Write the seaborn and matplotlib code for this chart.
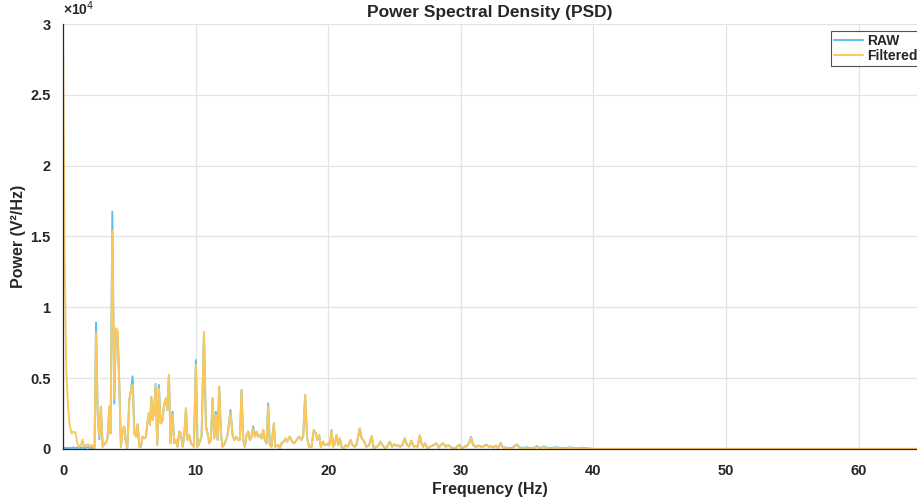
import matplotlib
matplotlib.use("Agg")
import matplotlib.pyplot as plt
import seaborn as sns
import pandas as pd
from matplotlib.ticker import FuncFormatter

freq_hz = [
    0.00, 0.12, 0.25, 0.38, 0.50, 0.65, 0.78, 0.95, 1.08, 1.23,
    1.36, 1.48, 1.58, 1.73, 1.91, 2.03, 2.16, 2.29, 2.38, 2.49,
    2.62, 2.74, 2.86, 2.99, 3.17, 3.29, 3.37, 3.49, 3.59, 3.72,
    3.87, 3.99, 4.12, 4.24, 4.37, 4.49, 4.62, 4.72, 4.85, 5.00,
    5.13, 5.25, 5.38, 5.50, 5.63, 5.75, 5.88, 6.00, 6.13, 6.26,
    6.36, 6.46, 6.56, 6.66, 6.76, 6.88, 6.98, 7.11, 7.23, 7.36,
    7.48, 7.61, 7.76, 7.86, 7.99, 8.11, 8.26, 8.39, 8.52, 8.64,
    8.77, 8.89, 9.02, 9.15, 9.27, 9.39, 9.52, 9.65, 9.77, 9.87,
    10.02, 10.15, 10.27, 10.45, 10.63, 10.78, 10.90, 11.03, 11.15, 11.28,
    11.41, 11.53, 11.66, 11.78, 11.91, 12.03, 12.21, 12.41, 12.63, 12.79,
    12.91, 13.09, 13.21, 13.34, 13.46, 13.59, 13.71, 13.84, 13.97, 14.09,
    14.22, 14.34, 14.47, 14.60, 14.72, 14.85, 14.97, 15.10, 15.22, 15.35,
    15.47, 15.60, 15.72, 15.90, 16.00, 16.23, 16.35, 16.48, 16.65, 16.78,
    16.90, 17.10, 17.28, 17.43, 17.61, 17.81, 17.98, 18.11, 18.26, 18.41,
    18.56, 18.74, 18.91, 19.07, 19.17, 19.32, 19.44, 19.62, 19.75, 19.87,
    20.00, 20.12, 20.25, 20.37, 20.50, 20.63, 20.75, 20.88, 21.00, 21.18,
    21.33, 21.50, 21.68, 21.83, 22.00, 22.13, 22.38, 22.50, 22.68, 22.88,
    23.08, 23.28, 23.43, 23.63, 23.76, 23.94, 24.09, 24.27, 24.44, 24.64,
    24.82, 24.97, 25.15, 25.27, 25.40, 25.60, 25.77, 25.95, 26.10, 26.27,
    26.45, 26.60, 26.75, 26.90, 27.03, 27.15, 27.30, 27.48, 27.66, 27.78,
    27.96, 28.16, 28.33, 28.49, 28.66, 28.86, 29.04, 29.21, 29.41, 29.66,
    29.87, 30.04, 30.17, 30.30, 30.42, 30.62, 30.77, 30.92, 31.12, 31.37,
    31.55, 31.72, 31.93, 32.13, 32.30, 32.48, 32.63, 32.81, 33.00, 33.13,
    33.43, 33.81, 34.06, 34.23, 34.43, 34.68, 34.94, 35.24, 35.49, 35.74,
    36.00, 36.24, 36.60, 37.20, 37.60, 37.96, 38.30, 38.70, 39.20, 39.60,
    40.00, 45.00, 50.00, 55.00, 60.00, 64.40,
]

psd_filtered = [
    28750, 14000, 5500, 3000, 1700, 1100, 1220, 1150, 390, 160,
    280, 680, 160, 280, 330, 160, 280, 160, 50, 8170,
    2500, 870, 2990, 160, 400, 520, 870, 2990, 1100, 15400,
    3600, 8520, 8400, 4640, 160, 1340, 1580, 640, 50, 3460,
    4170, 4520, 1100, 870, 1750, 160, 160, 870, 750, 870,
    1810, 2520, 1710, 3690, 2050, 2750, 4520, 280, 4280, 1810,
    1930, 3040, 3580, 2760, 5220, 400, 2400, 400, 635, 160,
    1220, 1100, 160, 1000, 2870, 635, 990, 400, 280, 160,
    5950, 160, 400, 870, 8240, 1580, 1100, 400, 635, 3580,
    750, 2400, 635, 4400, 1100, 160, 400, 990, 2520, 990,
    635, 870, 635, 635, 4170, 635, 160, 990, 1220, 635,
    870, 1450, 870, 1220, 870, 990, 750, 1340, 635, 400,
    2990, 280, 160, 1810, 160, 280, 50, 400, 520, 750,
    520, 870, 520, 400, 640, 870, 640, 870, 3810, 750,
    160, 160, 1340, 1100, 640, 990, 160, 520, 280, 280,
    400, 280, 1340, 160, 400, 990, 280, 750, 160, 50,
    280, 160, 640, 280, 160, 280, 1460, 800, 580, 160,
    250, 920, 50, 160, 200, 520, 280, 50, 160, 520,
    160, 330, 210, 280, 160, 280, 750, 280, 160, 590,
    160, 210, 160, 960, 400, 160, 400, 50, 160, 210,
    280, 400, 100, 280, 400, 160, 280, 160, 50, 100,
    280, 50, 50, 160, 160, 400, 820, 280, 120, 210,
    120, 160, 280, 120, 160, 90, 210, 50, 400, 120,
    50, 25, 160, 280, 90, 30, 90, 20, 30, 160,
    20, 140, 20, 90, 20, 50, 80, 20, 60, 10,
    0, 0, 0, 0, 0, 0,
]

psd_raw = [
    150, 60, 80, 50, 90, 70, 110, 60, 100, 80,
    70, 120, 60, 90, 130, 60, 100, 70, 50, 8920,
    2300, 700, 2990, 160, 400, 520, 870, 2990, 1100, 16750,
    3200, 8300, 8200, 4640, 160, 1340, 1580, 640, 50, 3460,
    4170, 5130, 1100, 870, 1750, 160, 160, 870, 750, 870,
    1810, 2520, 1710, 3690, 2050, 2750, 4590, 280, 4520, 1810,
    1930, 3040, 3580, 2760, 5220, 400, 2630, 400, 635, 160,
    1220, 1100, 160, 1000, 2870, 635, 990, 400, 280, 160,
    6280, 160, 400, 870, 8240, 1580, 1100, 400, 635, 3580,
    750, 2630, 635, 4400, 1100, 160, 400, 990, 2750, 990,
    635, 870, 635, 635, 4170, 635, 160, 990, 1220, 635,
    870, 1600, 870, 1220, 870, 990, 750, 1340, 635, 400,
    3220, 280, 160, 1810, 160, 280, 50, 400, 520, 750,
    520, 870, 520, 400, 640, 870, 640, 870, 3810, 750,
    160, 160, 1340, 1100, 640, 990, 160, 520, 280, 280,
    400, 280, 1340, 160, 400, 990, 280, 750, 160, 50,
    280, 160, 640, 280, 160, 280, 1460, 800, 580, 160,
    250, 920, 50, 160, 200, 520, 280, 50, 160, 520,
    160, 330, 210, 280, 160, 280, 750, 280, 160, 590,
    160, 210, 160, 960, 400, 160, 400, 50, 160, 210,
    280, 400, 100, 280, 400, 160, 280, 160, 50, 100,
    310, 80, 80, 190, 190, 430, 860, 310, 150, 240,
    150, 190, 310, 150, 190, 120, 240, 80, 430, 150,
    80, 60, 200, 320, 120, 60, 120, 50, 60, 200,
    50, 180, 50, 120, 50, 80, 110, 50, 90, 40,
    10, 10, 10, 10, 10, 10,
]

series_names = ["RAW", "Filtered"]
x_ticks = [0, 10, 20, 30, 40, 50, 60]
y_ticks = [0, 5000, 10000, 15000, 20000, 25000, 30000]

df = pd.concat([
    pd.DataFrame({"Frequency": freq_hz, "Power": psd_raw, "Signal": "RAW"}),
    pd.DataFrame({"Frequency": freq_hz, "Power": psd_filtered, "Signal": "Filtered"}),
], ignore_index=True)

sns.set_style("white")
plt.rcParams["font.family"] = ["Liberation Sans", "DejaVu Sans"]

fig = plt.figure(figsize=(9.17, 5.04), dpi=100)
ax = fig.add_axes([63 / 917, 1 - 449 / 504, 1 - 63 / 917, (449 - 24) / 504])

palette = {"RAW": "#5CC0EC", "Filtered": "#FDC85A"}
for name in series_names:
    sns.lineplot(data=df[df["Signal"] == name], x="Frequency", y="Power",
                 color=palette[name], linewidth=1.4, ax=ax, label=name,
                 estimator=None, sort=False)

ax.set_xlim(0, 64.4)
ax.set_ylim(0, 30000)
ax.set_xticks(x_ticks)
ax.set_yticks(y_ticks)
ax.yaxis.set_major_formatter(FuncFormatter(lambda v, p: f"{v / 1e4:g}"))
ax.grid(True, color="#e3e3e3", linewidth=0.9)
ax.set_axisbelow(True)
for s in ["top", "right"]:
    ax.spines[s].set_visible(False)
for s in ["left", "bottom"]:
    ax.spines[s].set_color("#262626")
    ax.spines[s].set_linewidth(0.9)
ax.tick_params(axis="both", direction="out", length=4, width=0.9, color="#262626",
               labelsize=10.5, labelcolor="#262626")
ax.tick_params(axis="x", pad=7)
ax.tick_params(axis="y", pad=5)
for lbl in ax.get_xticklabels() + ax.get_yticklabels():
    lbl.set_fontweight("bold")

ax.set_xlabel("Frequency (Hz)", fontsize=11.5, fontweight="bold", color="#262626")
ax.set_ylabel("Power (V²/Hz)", fontsize=11.5, fontweight="bold", color="#262626")
ax.xaxis.set_label_coords(0.5, -0.077)
ax.yaxis.set_label_coords(-0.043, 0.5)
ax.set_title("Power Spectral Density (PSD)", fontsize=12.5, fontweight="bold", color="#262626", pad=5)
ax.text(0.0, 1.015, "×10$^{4}$", transform=ax.transAxes, fontsize=10, fontweight="bold",
        color="#262626", ha="left", va="bottom")

leg = ax.legend(loc="upper right", bbox_to_anchor=(1.004, 0.984), borderaxespad=0,
                frameon=True, fancybox=False, fontsize=10, handlelength=2.1,
                handletextpad=0.3, borderpad=0.2, labelspacing=0.1)
leg.get_frame().set_edgecolor("#262626")
leg.get_frame().set_linewidth(0.8)
for t in leg.get_texts():
    t.set_fontweight("bold")
    t.set_color("#262626")

fig.savefig("out.png", dpi=100)
